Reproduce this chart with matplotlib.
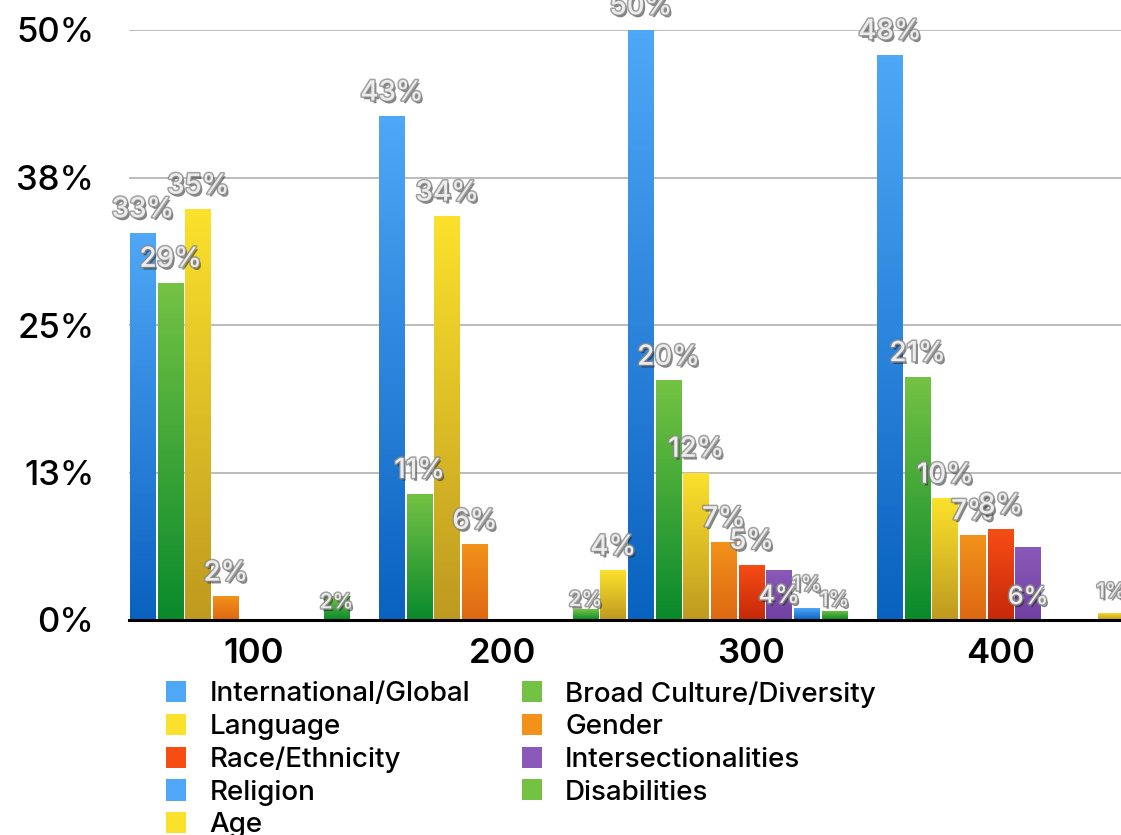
import numpy as np
import matplotlib
matplotlib.use('Agg')
import matplotlib.pyplot as plt
import matplotlib.patheffects as pe
from matplotlib.colors import LinearSegmentedColormap
from matplotlib.patches import Patch

plt.rcParams['font.family'] = ['Inter', 'DejaVu Sans']

# data
groups = ['100', '200', '300', '400']
series = ['International/Global', 'Broad Culture/Diversity', 'Language', 'Gender',
          'Race/Ethnicity', 'Intersectionalities', 'Religion', 'Disabilities', 'Age']
international = [32.8, 42.7, 50.0, 47.9]
broad_culture = [28.6, 10.7, 20.3, 20.6]
language = [34.8, 34.2, 12.5, 10.3]
gender = [2.0, 6.4, 6.6, 7.2]
race = [0, 0, 4.7, 7.7]
intersectional = [0, 0, 4.2, 6.2]
religion = [0, 0, 1.0, 0]
disabilities = [2.0, 0.9, 0.8, 0]
age = [0, 4.2, 0, 0.6]
values = [international, broad_culture, language, gender, race,
          intersectional, religion, disabilities, age]
# labels as shown on the chart
label_text = [
    ['33%', '43%', '50%', '48%'],
    ['29%', '11%', '20%', '21%'],
    ['35%', '34%', '12%', '10%'],
    ['2%', '6%', '7%', '7%'],
    ['', '', '5%', '8%'],
    ['', '', '4%', '6%'],
    ['', '', '1%', ''],
    ['2%', '2%', '1%', ''],
    ['', '4%', '', '1%'],
]
yticks = [0, 12.5, 25, 37.5, 50]
ytick_labels = ['0%', '13%', '25%', '38%', '50%']

# styles
blue = ('#4fa7f7', '#0a62c0')
green = ('#74c243', '#0a8a2c')
yellow = ('#fbe12c', '#bf9a20')
orange = ('#f2921b', '#de6812')
red = ('#f64d15', '#c6280a')
purple = ('#8b59b9', '#7041a0')
colors = [blue, green, yellow, orange, red, purple, blue, green, yellow]
# labels drawn low inside the bar: (series, group) -> (y centre, font size)
inside = {(5, 2): (2.0, 18), (5, 3): (1.9, 18), (6, 2): (3.0, 15),
          (7, 0): (1.5, 15), (7, 1): (1.7, 15), (7, 2): (1.7, 15),
          (8, 3): (2.4, 15)}

W, H = 1121, 835
fig = plt.figure(figsize=(W / 100, H / 100), dpi=100)
ax = fig.add_axes([129 / W, 1 - 620 / H, (W - 129) / W, (620 - 30) / H])

n = len(series)
slot = 1.0 / n
xg = np.arange(len(groups))
effects = [pe.withSimplePatchShadow(offset=(1.5, -2), shadow_rgbFace='#222222', alpha=0.55),
           pe.Stroke(linewidth=2.2, foreground='#8a8a8a', alpha=0.8), pe.Normal()]

for i, name in enumerate(series):
    xs = xg - 0.5 + slot * (i + 0.5)
    cmap = LinearSegmentedColormap.from_list(name, [colors[i][1], colors[i][0]])
    bars = ax.bar(xs, values[i], width=slot * 0.93, color=colors[i][0], zorder=2)
    for j, b in enumerate(bars):
        v = values[i][j]
        if v > 0:
            grad = np.linspace(0, 1, 64).reshape(-1, 1)
            im = ax.imshow(grad, cmap=cmap, aspect='auto', origin='lower',
                           extent=(b.get_x(), b.get_x() + b.get_width(), 0, v), zorder=3)
            im.set_clip_path(b)
        txt = label_text[i][j]
        if not txt:
            continue
        if (i, j) in inside:
            yc, fs = inside[(i, j)]
            ax.text(xs[j], yc, txt, ha='center', va='center', fontsize=fs, color='#ececec',
                    fontweight='medium', path_effects=effects, zorder=5, clip_on=False)
        else:
            ax.annotate(txt, (xs[j], v), xytext=(0, 7), textcoords='offset points',
                        ha='center', va='bottom', fontsize=20, color='#ececec',
                        fontweight='medium', path_effects=effects, zorder=5,
                        annotation_clip=False)

ax.set_xlim(-0.5, 3.484)
ax.set_ylim(0, 50)
ax.set_yticks(yticks)
ax.set_yticklabels(ytick_labels, fontsize=25, fontweight='medium')
ax.set_xticks(xg)
ax.set_xticklabels(groups, fontsize=25, fontweight='semibold')
ax.tick_params(axis='both', length=0)
ax.tick_params(axis='y', pad=25)
ax.tick_params(axis='x', pad=13)
ax.grid(axis='y', color='#aaaaaa', linewidth=1.1, zorder=0)
ax.set_axisbelow(True)
for s in ['top', 'right', 'left']:
    ax.spines[s].set_visible(False)
ax.spines['bottom'].set_linewidth(2.2)
ax.spines['bottom'].set_zorder(6)

# legend, row-major order in two columns
handles = [Patch(facecolor=colors[i][0], edgecolor='none') for i in range(n)]
order = list(range(0, n, 2)) + list(range(1, n, 2))
fig.legend([handles[k] for k in order], [series[k] for k in order], ncol=2,
           loc='upper left', bbox_to_anchor=(166 / W, 1 - 681 / H), frameon=False,
           prop={'size': 20, 'weight': 'medium'}, handlelength=0.72, handleheight=0.8,
           handletextpad=0.85, columnspacing=1.85, labelspacing=0.23, borderpad=0,
           borderaxespad=0)

fig.savefig('out.png', dpi=100)
